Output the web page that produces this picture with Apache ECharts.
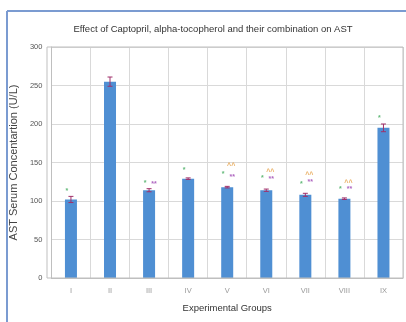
<!DOCTYPE html>
<html><head><meta charset="utf-8">
<script src="https://cdn.jsdelivr.net/npm/echarts@6/dist/echarts.min.js"></script>
<style>html,body{margin:0;padding:0;background:#fff}#c{width:406px;height:322px}</style>
</head><body><div id="c"></div>
<script>
const categories = ['I','II','III','IV','V','VI','VII','VIII','IX'];
const means = [102, 255, 114, 129, 118, 114, 108, 103, 195];
const errors = [4, 6, 2, 1, 1, 1.5, 2, 1, 5];
// significance marks: [category index, height]
const starMarks = [[0,113],[2,123],[3,140],[4,135],[5,130],[6,122],[7,115],[8,208]];
const dblStarMarks = [[2,122],[4,131],[5,128],[6,124],[7,115]];
const caretMarks = [[4,146],[5,138],[6,134],[7,123]];

const chart = echarts.init(document.getElementById('c'));
const gridColor = '#d9d9d9';
function markSeries(data, text, color, dx) {
  return {
    type: 'scatter', data: data.map(d => [categories[d[0]], d[1]]),
    symbolSize: 0, silent: true, z: 5,
    label: { show: true, position: 'inside', formatter: text, color: color,
      fontSize: 7, fontWeight: 'bold', fontFamily: 'Liberation Sans', offset: [dx, 0] }
  };
}
chart.setOption({
  animation: false,
  title: { text: 'Effect of Captopril, alpha-tocopherol and their combination on AST',
    left: 208, top: 19, textAlign: 'center',
    textStyle: { fontSize: 9.5, fontWeight: 'normal', color: '#333', fontFamily: 'Liberation Sans' } },
  grid: { left: 47, right: 3, top: 47, bottom: 44 },
  xAxis: {
    type: 'category', data: categories,
    name: 'Experimental Groups', nameLocation: 'middle', nameGap: 25,
    nameTextStyle: { fontSize: 9.5, color: '#333', fontFamily: 'Liberation Sans' },
    axisLine: { lineStyle: { color: '#bfbfbf' } }, axisTick: { show: false },
    axisLabel: { fontSize: 7.5, color: '#999', margin: 9, fontFamily: 'Liberation Sans' },
    splitLine: { show: true, lineStyle: { color: gridColor } }
  },
  yAxis: {
    type: 'value', min: 0, max: 300, interval: 50,
    name: 'AST Serum Concentartion (U/L)', nameLocation: 'middle', nameGap: 15,
    nameTextStyle: { fontSize: 11, color: '#444', fontFamily: 'Liberation Sans' },
    axisLine: { show: true, lineStyle: { color: '#bfbfbf' } }, axisTick: { show: false },
    axisLabel: { fontSize: 7.5, color: '#555', margin: 9, fontFamily: 'Liberation Sans' },
    splitLine: { lineStyle: { color: gridColor } }
  },
  graphic: [
    { type: 'line', shape: { x1: 7, y1: 11, x2: 406, y2: 11 }, style: { stroke: '#7b9bd1', lineWidth: 2 } },
    { type: 'line', shape: { x1: 7, y1: 11, x2: 7, y2: 322 }, style: { stroke: '#7b9bd1', lineWidth: 2 } },
    { type: 'rect', shape: { x: 47, y: 47, width: 356, height: 231 }, style: { fill: 'none', stroke: '#bfbfbf', lineWidth: 1 }, z: 10 }
  ],
  series: [
    { type: 'bar', data: means, barWidth: 12, itemStyle: { color: '#4f8fd3' } },
    { type: 'custom', z: 4,
      data: means.map((m, i) => [i, m - errors[i], m + errors[i]]),
      renderItem: function (params, api) {
        const lo = api.coord([api.value(0), api.value(1)]);
        const hi = api.coord([api.value(0), api.value(2)]);
        const x = lo[0], w = 2.5;
        const st = { stroke: '#a1306a', lineWidth: 1 };
        return { type: 'group', children: [
          { type: 'line', shape: { x1: x, y1: lo[1], x2: x, y2: hi[1] }, style: st },
          { type: 'line', shape: { x1: x - w, y1: lo[1], x2: x + w, y2: lo[1] }, style: st },
          { type: 'line', shape: { x1: x - w, y1: hi[1], x2: x + w, y2: hi[1] }, style: st }
        ]};
      }
    },
    markSeries(starMarks, '*', '#3aa856', -4),
    markSeries(dblStarMarks, '**', '#9a3fb0', 5),
    markSeries(caretMarks, '^^', '#e39a3a', 4)
  ]
});
</script></body></html>
